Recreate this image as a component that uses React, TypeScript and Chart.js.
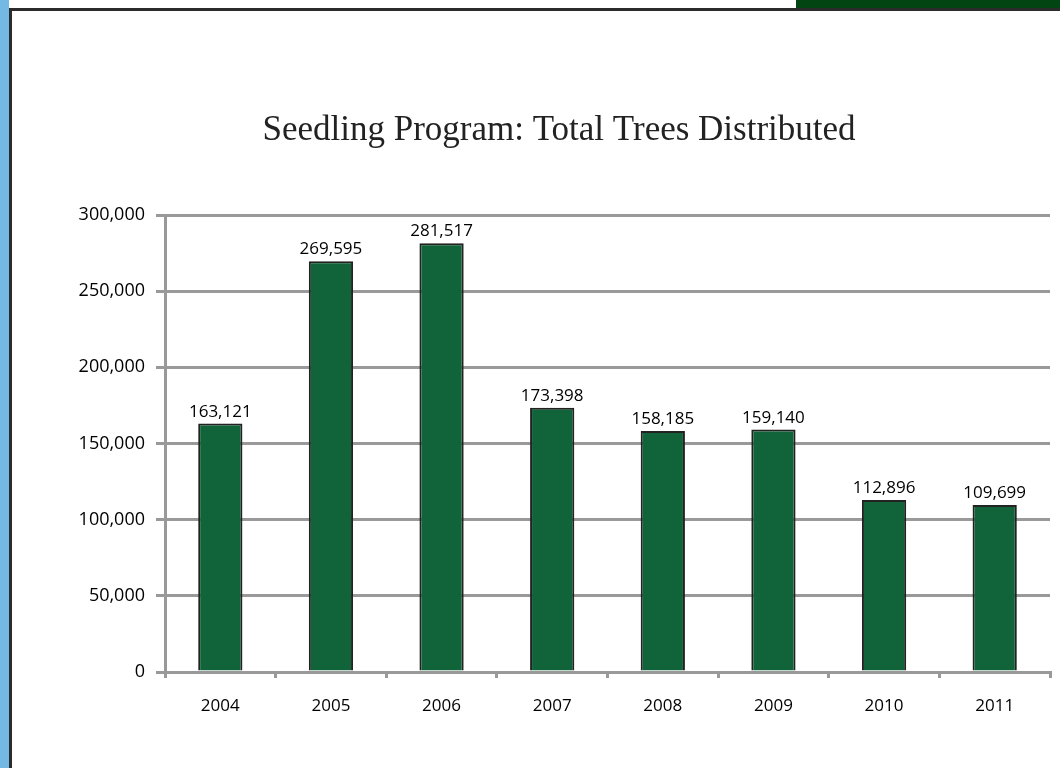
import React, { useEffect, useRef } from "react";
import { Chart, registerables } from "chart.js";

Chart.register(...registerables);

const categories = ["2004", "2005", "2006", "2007", "2008", "2009", "2010", "2011"];
const treesDistributed = [163121, 269595, 281517, 173398, 158185, 159140, 112896, 109699];
const titleText = "Seedling Program: Total Trees Distributed";

const fmt = (v: number) => v.toLocaleString("en-US");

const valueLabels = {
  id: "valueLabels",
  afterDatasetsDraw(chart: any) {
    const ctx = chart.ctx;
    const meta = chart.getDatasetMeta(0);
    ctx.save();
    ctx.font = "17px 'Open Sans'";
    ctx.fillStyle = "#000";
    ctx.textAlign = "center";
    ctx.textBaseline = "alphabetic";
    meta.data.forEach((bar: any, i: number) => {
      ctx.fillText(fmt(treesDistributed[i]), bar.x, bar.y - 7);
    });
    ctx.restore();
  },
};

export default function App() {
  const ref = useRef<HTMLCanvasElement>(null);
  useEffect(() => {
    if (!ref.current) return;
    const chart = new Chart(ref.current, {
      type: "bar",
      data: {
        labels: categories,
        datasets: [
          {
            data: treesDistributed,
            backgroundColor: "#116439",
            borderColor: "#222",
            borderWidth: 2,
            barPercentage: 0.4,
            categoryPercentage: 1,
          },
        ],
      },
      options: {
        animation: false,
        responsive: false,
        maintainAspectRatio: false,
        layout: { padding: { left: 56, right: 10, top: 0, bottom: 46 } },
        plugins: {
          legend: { display: false },
          tooltip: { enabled: false },
          title: {
            display: true,
            text: titleText,
            color: "#222",
            font: { family: "'Liberation Serif'", size: 35, weight: "normal" },
            padding: { top: 99, bottom: 63 },
          },
        },
        scales: {
          x: {
            grid: {
              display: true,
              drawOnChartArea: false,
              drawTicks: true,
              tickLength: 6,
              color: "#999",
              lineWidth: 3,
            },
            border: { display: true, color: "#999", width: 3 },
            ticks: {
              color: "#000",
              font: { family: "'Open Sans'", size: 17 },
              padding: 18,
              maxRotation: 0,
            },
            afterFit: (s: any) => {
              s.height = 50;
            },
          },
          y: {
            min: 0,
            max: 300000,
            grid: {
              color: "#999",
              lineWidth: 3,
              drawTicks: true,
              tickLength: 9,
            },
            border: { display: true, color: "#999", width: 3 },
            ticks: {
              stepSize: 50000,
              color: "#000",
              font: { family: "'Open Sans'", size: 18 },
              padding: 11,
              callback: (v: any) => fmt(Number(v)),
            },
            afterFit: (s: any) => {
              s.width = 97;
            },
          },
        },
      },
      plugins: [valueLabels],
    });
    return () => chart.destroy();
  }, []);

  return (
    <div
      style={{
        position: "fixed",
        left: 0,
        top: 0,
        width: 1060,
        height: 768,
        background: "#fff",
        overflow: "hidden",
      }}
    >
      <div style={{ position: "absolute", left: 0, top: 0, width: 9, height: 768, background: "#74b8e4" }} />
      <div style={{ position: "absolute", left: 796, top: 0, width: 264, height: 8, background: "#024513" }} />
      <div style={{ position: "absolute", left: 9, top: 8, width: 1051, height: 3, background: "#2b2b2b" }} />
      <div style={{ position: "absolute", left: 9, top: 8, width: 3, height: 760, background: "#2b2b2b" }} />
      <canvas
        ref={ref}
        width={1048}
        height={757}
        style={{ position: "absolute", left: 12, top: 11, width: 1048, height: 757 }}
      />
    </div>
  );
}
